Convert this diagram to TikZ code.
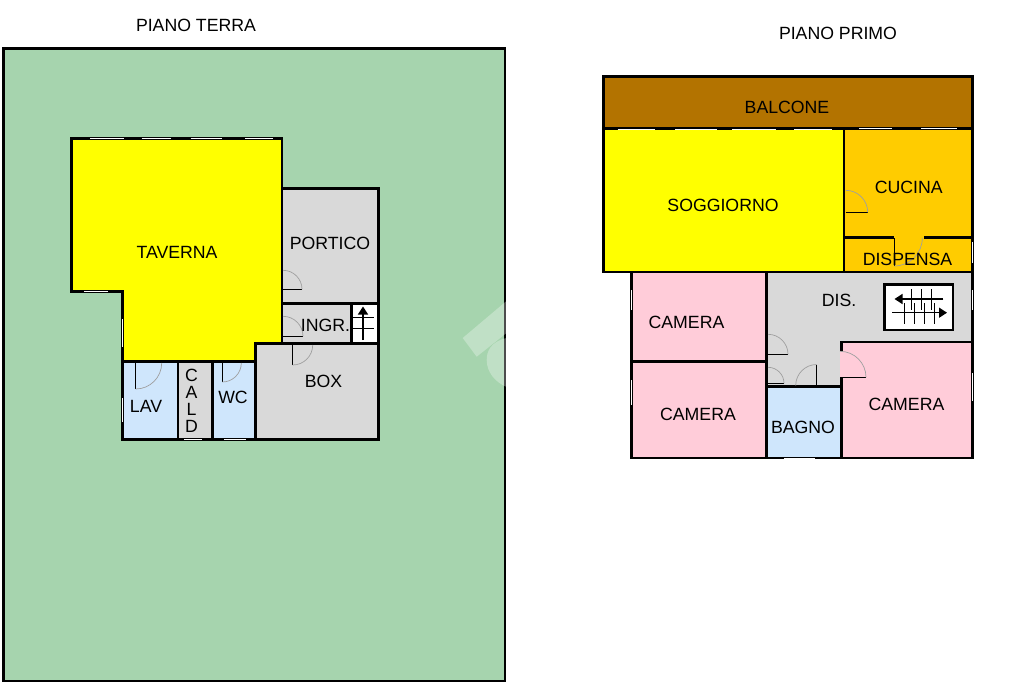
\documentclass[tikz,border=0pt]{standalone}
\usepackage{fontspec}
\setmainfont{Liberation Sans}
\usetikzlibrary{arrows.meta}
\definecolor{garden}{RGB}{166,212,174}
\definecolor{living}{RGB}{255,255,0}
\definecolor{service}{RGB}{217,217,217}
\definecolor{bath}{RGB}{207,230,252}
\definecolor{bedroom}{RGB}{255,204,217}
\definecolor{balcony}{RGB}{179,115,0}
\definecolor{kitchen}{RGB}{255,204,0}

\begin{document}
\begin{tikzpicture}[x=1pt, y=-1pt,
            wall/.style={line width=2.9pt, line cap=rect, miter limit=10},
            window/.style={white, line width=1.1pt},
            door leaf/.style={line width=0.8pt},
            door arc/.style={gray!75, line width=0.7pt},
            stair line/.style={line width=0.9pt},
            stair arrow/.style={line width=1.4pt, -{Triangle[length=8pt, width=10pt]}},
            room text/.style={inner sep=0pt, font=\fontsize{17.7}{17}\selectfont},
            room name/.style={room text, text height=12.7pt, text depth=0pt}]

            \useasboundingbox (0,0) rectangle (1024,682);
            \fill[white] (0,0) rectangle (1024,682);

            % Piano terra
            \fill[garden] (3.5,48.5) rectangle (505,681);
            \fill[living] (71.7,138.7) -| (282,343.5) -| (255.7,361.7) -| (122.5,291.3) -| cycle;
            \fill[service] (282,188.7) rectangle (378.7,343.5);
            \fill[service] (255.7,343.5) rectangle (378.7,439.5);
            \fill[service] (178,361.7) rectangle (212.3,439.5);
            \fill[bath] (122.5,361.7) rectangle (178,439.5);
            \fill[bath] (212.3,361.7) rectangle (255.7,439.5);
            \fill[white] (351.3,303.7) rectangle (378.7,343.5);

            \draw[wall] (3.5,48.5) rectangle (505,681);
            \draw[wall] (71.7,138.7) -| (282,343.5) -| (255.7,361.7) -| (122.5,291.3) -| cycle;
            \draw[wall] (122.5,361.7) |- (378.7,439.5) |- (282,188.7);
            \draw[wall] (282,303.7) -- (378.7,303.7);
            \draw[wall] (282,343.5) -- (378.7,343.5);
            \draw[wall] (351.3,303.7) -- (351.3,343.5);
            \foreach \x in {178,212.3,255.7} {
                \draw[wall] (\x,361.7) -- (\x,439.5);
            }

            % Scala piano terra
            \foreach \y in {317.3,328.3} {
                \draw[stair line] (352.7,\y) -- (374,\y);
            }
            \draw[stair arrow] (363,340) -- (363,306.5);

            % Piano primo
            \fill[balcony] (603.7,76.3) rectangle (972.8,128.8);
            \fill[living] (603.7,128.8) rectangle (844,272);
            \fill[kitchen] (844,128.8) rectangle (972.8,272);
            \fill[service] (766.7,272) rectangle (972.8,342);
            \fill[service] (766.7,342) rectangle (841.3,386.8);
            \fill[bedroom] (631.7,272) rectangle (766.7,458);
            \fill[bedroom] (840,342) rectangle (972.8,458);
            \fill[bath] (766.7,386.8) rectangle (841.3,458);
            \fill[white] (884.7,284.7) rectangle (953,330);

            \draw[wall] (603.7,76.3) rectangle (972.8,272);
            \draw[wall] (603.7,128.8) -- (972.8,128.8);
            \draw[wall] (844,128.8) -- (844,272);
            \draw[wall] (844,237.3) -- (893,237.3);
            \draw[wall] (925,237.3) -- (972.8,237.3);
            \draw[wall] (631.7,272) |- (972.8,458) -- (972.8,272);
            \draw[wall] (766.7,272) -- (766.7,458);
            \draw[wall] (631.7,361.3) -- (766.7,361.3);
            \draw[wall] (766.7,386.8) -- (841.3,386.8);
            \draw[wall] (972.8,342) -- (841.3,342) -- (841.3,350);
            \draw[wall] (841.3,378.5) -- (841.3,458);
            \draw[wall] (884.7,284.7) rectangle (953,330);

            % Scala piano primo
            \foreach \x in {911.7,921.7,931.7} {
                \draw[stair line] (\x,289) -- (\x,310);
            }
            \foreach \x in {904.3,914.3,924.3,934.3} {
                \draw[stair line] (\x,303.3) -- (\x,324);
            }
            \draw[stair arrow] (943.3,299) -- (894.5,299);
            \draw[stair arrow] (892.3,312.7) -- (947,312.7);

            % Finestre orizzontali
            \foreach \a/\b/\y in {90/124/138.3, 141.7/171/138.3, 190.7/221.7/138.3, 245/273/138.3,
                    84/108/291.3, 184/202/439.8, 224/246/439.8,
                    617.7/655/129.5, 675/716.7/129.5, 732.3/775.7/129.5, 794/831.7/129.5,
                    859.3/891.7/128.3, 921/956.7/128.3, 784/815/458.3} {
                \draw[window] (\a,\y) -- (\b,\y);
            }
            % Finestre verticali
            \foreach \x/\a/\b in {122.3/319/347, 122.3/398/422, 972.5/242/263,
                    631.4/290/310, 631.4/380/405, 972.5/290/310, 972.5/373/401} {
                \draw[window] (\x,\a) -- (\x,\b);
            }

            % Porte: cardine x/y, angolo anta, angolo arco, raggio
            \foreach \x/\y/\a/\b/\r in {283/289.3/0/-90/19, 283/336.3/0/-90/20, 292.7/345/90/0/20,
                    135.7/363/90/0/26, 222.3/363/90/0/19, 845.7/212.3/0/-90/22, 894.3/238/90/0/28,
                    768/354.3/0/-90/20, 768/383.3/0/-90/16, 816.7/385.5/-90/-180/21, 840/377.3/0/-90/26} {
                \draw[door leaf] (\x,\y) -- ++(\a:\r);
                \draw[door arc] (\x,\y) ++(\a:\r) arc[start angle=\a, end angle=\b, radius=\r];
            }

            % Filigrana
            \fill[white, opacity=0.3] (462.7,338) -- (506.5,301) -- (506.5,333) -- (476.7,356.7) -- cycle;
            \fill[white, opacity=0.3] (506.5,338) .. controls (490,342) and (486.7,352) .. (486.7,360)
                .. controls (486.7,372) and (495,382) .. (506.5,387) -- cycle;

            % Scritte
            \node[room name] (terra) at (196,25.5) {PIANO TERRA};
            \node[room name] (primo) at (838,33.5) {PIANO PRIMO};
            \node[room name] (taverna) at (177,252) {TAVERNA};
            \node[room name] (portico) at (330,243) {PORTICO};
            \node[room name] (ingr) at (325.5,325.3) {INGR.};
            \node[room name] (box) at (323.5,381) {BOX};
            \node[room name] (lav) at (146,406) {LAV};
            \node[room text, align=center] (cald) at (191.5,401) {C\\A\\L\\D};
            \node[room name] (wc) at (233,397.5) {WC};
            \node[room name] (balcone) at (787,107) {BALCONE};
            \node[room name] (soggiorno) at (723,205) {SOGGIORNO};
            \node[room name] (cucina) at (908.7,187) {CUCINA};
            \node[room name] (dispensa) at (907.5,259.3) {DISPENSA};
            \node[room name] (dis) at (839,300.5) {DIS.};
            \node[room name] (cameraa) at (686.5,322) {CAMERA};
            \node[room name] (camerab) at (698,414) {CAMERA};
            \node[room name] (camerac) at (906.5,404) {CAMERA};
            \node[room name] (bagno) at (803,427.5) {BAGNO};
        \end{tikzpicture}
\end{document}
